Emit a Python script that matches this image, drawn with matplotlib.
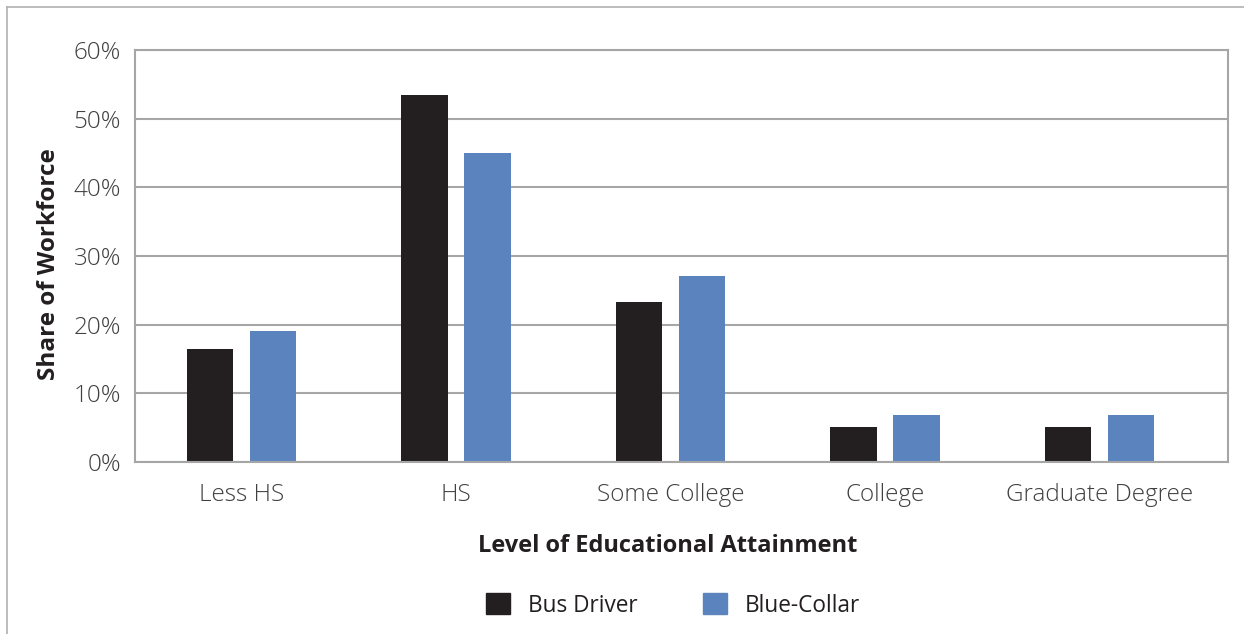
import matplotlib.pyplot as plt
import numpy as np
from matplotlib.lines import Line2D
from matplotlib.patches import Patch

# Share of workforce by educational attainment
categories = ['Less HS', 'HS', 'Some College', 'College', 'Graduate Degree']
bus_driver = [16.5, 53.4, 23.3, 5.1, 5.1]
blue_collar = [19.1, 45.0, 27.1, 6.8, 6.8]

plt.rcParams['font.family'] = ['Open Sans', 'DejaVu Sans']

black = '#231F20'
blue = '#5B84BF'
grid_gray = '#A6A6A6'

fig = plt.figure(figsize=(12.44, 6.34), dpi=100)
ax = fig.add_axes([0.1085, 0.2713, 0.8786, 0.6498])

x = np.arange(len(categories))
width = 0.217
offset = 0.147
ax.bar(x - offset, bus_driver, width, color=black, label='Bus Driver')
ax.bar(x + offset, blue_collar, width, color=blue, label='Blue-Collar')

ax.set_xlim(-0.497, len(categories) - 0.4)
ax.set_ylim(0, 60)
ax.set_yticks(range(0, 61, 10))
ax.set_yticklabels([f'{v}%' for v in range(0, 61, 10)])
ax.set_xticks(x)
ax.set_xticklabels(categories)
for lbl in ax.get_xticklabels() + ax.get_yticklabels():
    lbl.set_fontweight('light')

ax.yaxis.grid(True, color=grid_gray, linewidth=1.5)
ax.set_axisbelow(True)
for s in ax.spines.values():
    s.set_color(grid_gray)
    s.set_linewidth(1.5)

ax.tick_params(axis='both', length=0, labelsize=17.5, labelcolor='#404040')
ax.tick_params(axis='y', pad=10)
ax.tick_params(axis='x', pad=15)

ax.set_xlabel('Level of Educational Attainment', fontsize=17, fontweight='bold',
              color=black)
ax.xaxis.set_label_coords(0.4877, -0.174)
ax.set_ylabel('Share of Workforce', fontsize=17.5, fontweight='bold',
              color=black)
ax.yaxis.set_label_coords(-0.068, 0.4806)

handles = [Patch(color=black, label='Bus Driver'), Patch(color=blue, label='Blue-Collar')]
fig.legend(handles=handles, loc='center', bbox_to_anchor=(0.541, 0.045), ncol=2,
           frameon=False, fontsize=16.3, handlelength=1.05, handleheight=1.05,
           columnspacing=2.9, handletextpad=0.8, labelcolor=black)

# thin frame along the top and left edges
fig.add_artist(Line2D([7 / 1244, 1], [1 - 7 / 634, 1 - 7 / 634], color='#B0B0B0',
                      linewidth=1.2, transform=fig.transFigure))
fig.add_artist(Line2D([7 / 1244, 7 / 1244], [0, 1 - 7 / 634], color='#B0B0B0',
                      linewidth=1.2, transform=fig.transFigure))

fig.savefig('out.png', dpi=100)
